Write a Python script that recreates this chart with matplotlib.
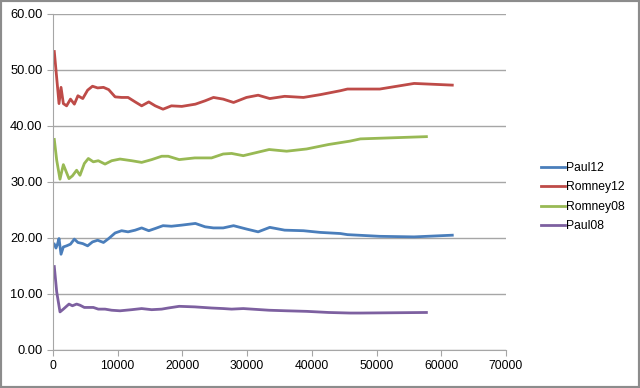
import matplotlib.pyplot as plt
from matplotlib.patches import Rectangle

plt.rcParams['font.family'] = ['Liberation Sans', 'DejaVu Sans']

# 2012 race: votes counted vs. percentage
x12 = [200, 460, 720, 930, 1240, 1600, 2100, 2700, 3300, 3850, 4600, 5350, 6100, 6900,
       7800, 8600, 9600, 10600, 11600, 12700, 13700, 14800, 15800, 17000, 18300, 19900,
       22000, 23500, 24800, 26300, 27900, 29900, 31700, 33500, 35800, 38700, 41300,
       44400, 45500, 50500, 55800, 61700]
paul12 = [18.9, 18.2, 19.0, 19.9, 17.1, 18.4, 18.6, 18.9, 19.8, 19.2, 19.0, 18.6, 19.3, 19.6,
          19.2, 19.9, 20.9, 21.3, 21.1, 21.4, 21.8, 21.3, 21.7, 22.2, 22.1, 22.3,
          22.6, 22.0, 21.8, 21.8, 22.2, 21.6, 21.1, 21.9, 21.4, 21.3, 21.0,
          20.8, 20.6, 20.3, 20.2, 20.5]
romney12 = [53.3, 50.0, 46.7, 44.0, 46.9, 44.0, 43.6, 44.8, 43.9, 45.4, 44.9, 46.4, 47.1, 46.8,
            46.9, 46.5, 45.2, 45.1, 45.1, 44.3, 43.6, 44.3, 43.6, 43.0, 43.6, 43.5,
            43.9, 44.5, 45.1, 44.8, 44.2, 45.1, 45.5, 44.9, 45.3, 45.1, 45.6,
            46.3, 46.6, 46.6, 47.6, 47.3]

# 2008 race
x08 = [200, 570, 1080, 1600, 2470, 3000, 3650, 4170, 4840, 5460, 6230, 7000, 8040, 9070,
       10350, 12160, 13700, 15250, 16800, 17800, 19500, 21900, 24500, 26300, 27600,
       29400, 33400, 36100, 39200, 42600, 45900, 47500, 57700]
romney08 = [37.6, 33.9, 30.5, 33.1, 30.6, 31.1, 32.1, 31.2, 33.3, 34.2, 33.6, 33.8, 33.2, 33.8,
            34.1, 33.8, 33.5, 34.0, 34.6, 34.6, 34.0, 34.3, 34.3, 35.0, 35.1,
            34.7, 35.8, 35.5, 35.9, 36.7, 37.3, 37.7, 38.1]
paul08 = [14.9, 10.4, 6.8, 7.3, 8.2, 7.9, 8.2, 8.0, 7.6, 7.6, 7.6, 7.3, 7.3, 7.1,
          7.0, 7.2, 7.4, 7.2, 7.3, 7.5, 7.8, 7.7, 7.5, 7.4, 7.3,
          7.4, 7.1, 7.0, 6.9, 6.7, 6.6, 6.6, 6.7]

fig = plt.figure(figsize=(6.4, 3.88), dpi=100)
ax = fig.add_axes([53 / 640, 1 - 350 / 388, 453 / 640, 336 / 388])

lw = 2.0
ax.plot(x12, paul12, color='#4A7EBB', lw=lw, solid_joinstyle='round', label='Paul12')
ax.plot(x12, romney12, color='#BE4B48', lw=lw, solid_joinstyle='round', label='Romney12')
ax.plot(x08, romney08, color='#98B954', lw=lw, solid_joinstyle='round', label='Romney08')
ax.plot(x08, paul08, color='#7D60A0', lw=lw, solid_joinstyle='round', label='Paul08')

ax.set_xlim(0, 70000)
ax.set_ylim(0, 60)
ax.set_xticks(range(0, 70001, 10000))
ax.set_yticks(range(0, 61, 10))
ax.set_yticklabels([f'{v:.2f}' for v in range(0, 61, 10)])
ax.grid(axis='y', color='#A6A6A6', lw=1)
ax.set_axisbelow(True)
for s in ['top', 'right']:
    ax.spines[s].set_visible(False)
for s in ['left', 'bottom']:
    ax.spines[s].set_color('#A6A6A6')
ax.tick_params(colors='#A6A6A6', labelcolor='black', labelsize=8.7, length=4, direction='out')
ax.tick_params(axis='y', labelsize=9.3)

ax.legend(loc='center left', bbox_to_anchor=(530 / 640, 1 - 197 / 388),
          bbox_transform=fig.transFigure, frameon=False, fontsize=8.7,
          handlelength=2.0, handletextpad=0.1, labelspacing=0.62)

fig.patches.append(Rectangle((0, 0), 1, 1, transform=fig.transFigure, fill=False,
                             edgecolor='#8C8C8C', lw=3))

fig.savefig('out.png', dpi=100)
